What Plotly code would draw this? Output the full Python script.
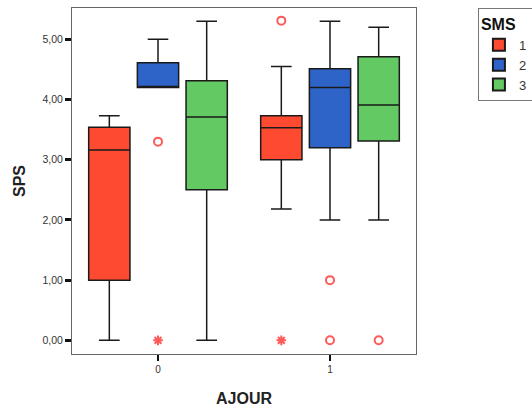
import plotly.graph_objects as go

# Data
ajour = [0, 1]
sms_names = ["1", "2", "3"]
colors = ["#FF4A32", "#2E63C8", "#63C963"]

q1 = {"1": [1.00, 3.00], "2": [4.20, 3.20], "3": [2.50, 3.31]}
median = {"1": [3.16, 3.53], "2": [4.20, 4.20], "3": [3.71, 3.91]}
q3 = {"1": [3.54, 3.73], "2": [4.61, 4.51], "3": [4.31, 4.71]}
lowerfence = {"1": [0.00, 2.18], "2": [4.20, 2.00], "3": [0.00, 2.00]}
upperfence = {"1": [3.73, 4.55], "2": [5.00, 5.30], "3": [5.30, 5.20]}

# Outliers: (ajour, value) per SMS group
outliers_circle = {"1": [(1, 5.31)], "2": [(0, 3.30), (1, 1.00), (1, 0.00)], "3": [(1, 0.00)]}
outliers_extreme = {"1": [(1, 0.00)], "2": [(0, 0.00)], "3": []}

y_ticks = [0, 1, 2, 3, 4, 5]

offsets = {"1": -0.283, "2": 0.0, "3": 0.283}
box_w = 0.24
outlier_color = "#FF5A5A"

fig = go.Figure()
for name, col in zip(sms_names, colors):
    xs = [a + offsets[name] for a in ajour]
    fig.add_trace(go.Box(
        x=xs, q1=q1[name], median=median[name], q3=q3[name],
        lowerfence=lowerfence[name], upperfence=upperfence[name],
        width=box_w, whiskerwidth=0.5, fillcolor=col,
        line=dict(color="#1a1a1a", width=1.5),
        name=name, boxpoints=False, hoverinfo="skip",
    ))

for name in sms_names:
    pts = outliers_circle[name]
    if pts:
        fig.add_trace(go.Scatter(
            x=[a + offsets[name] for a, v in pts], y=[v for a, v in pts],
            mode="markers", showlegend=False, hoverinfo="skip",
            marker=dict(symbol="circle-open", size=8, color=outlier_color,
                        line=dict(width=2, color=outlier_color)),
        ))
    pts = outliers_extreme[name]
    if pts:
        fig.add_trace(go.Scatter(
            x=[a + offsets[name] for a, v in pts], y=[v for a, v in pts],
            mode="markers", showlegend=False, hoverinfo="skip",
            marker=dict(symbol="asterisk-open", size=8, color=outlier_color,
                        line=dict(width=2, color=outlier_color)),
        ))

fig.update_layout(
    width=532, height=410,
    margin=dict(l=72, r=116, t=8, b=56, autoexpand=False),
    paper_bgcolor="white", plot_bgcolor="white",
    font=dict(family="Liberation Sans, Arial, sans-serif", color="#222"),
    separators=", ",
    showlegend=True,
    legend=dict(
        x=1.18, y=1.0, xanchor="left", yanchor="top",
        title=dict(text="<b>SMS</b>", font=dict(size=16, color="#111")),
        font=dict(size=13, color="#333"),
        bordercolor="#777", borderwidth=1, bgcolor="white",
        itemsizing="constant", tracegroupgap=0, itemwidth=30,
    ),
)
fig.update_xaxes(
    range=[-0.5, 1.5], tickmode="array", tickvals=ajour, ticktext=[str(a) for a in ajour],
    ticks="outside", ticklen=6, tickwidth=2, tickcolor="#111",
    showline=True, linecolor="#666", linewidth=1, mirror=True,
    showgrid=False, zeroline=False,
    tickfont=dict(size=10, color="#333"),
    title=dict(text="<b>AJOUR</b>", font=dict(size=16, color="#222"), standoff=18),
)
fig.update_yaxes(
    range=[-0.227, 5.52], tickmode="array", tickvals=y_ticks,
    tickformat=".2f",
    ticks="outside", ticklen=6, tickwidth=2.5, tickcolor="#111",
    showline=True, linecolor="#666", linewidth=1, mirror=True,
    showgrid=False, zeroline=False,
    tickfont=dict(size=10.5, color="#333"),
    title=dict(text="<b>SPS</b>", font=dict(size=16, color="#222"), standoff=12),
)

fig.write_html("out.html", config={"displayModeBar": False},
               post_script="document.body.style.margin='0';")
